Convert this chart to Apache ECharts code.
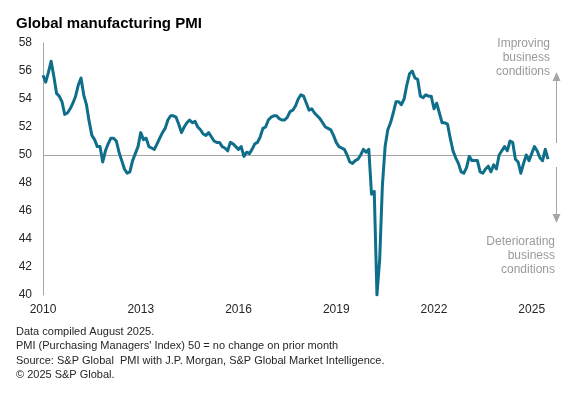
<!DOCTYPE html>
<html>
<head>
<meta charset="utf-8">
<script src="https://cdn.jsdelivr.net/npm/echarts@6/dist/echarts.min.js"></script>
<style>
html,body{margin:0;padding:0;background:#fff;}
#chart{width:569px;height:393px;}
</style>
</head>
<body>
<div id="chart"></div>
<script>
// ---- data ----
var startYear = 2010;
var pmi = [
  55.7, 55.2, 55.9, 56.7, 55.6, 54.4, 54.2, 53.8, 52.9, 53.0, 53.3, 53.7,
  54.2, 55.0, 55.5, 54.3, 53.6, 52.4, 51.4, 51.1, 50.6, 50.6, 49.5, 50.3,
  50.8, 51.2, 51.2, 51.0, 50.2, 49.6, 49.0, 48.7, 48.8, 49.6, 50.1, 50.6,
  51.6, 51.1, 51.2, 50.6, 50.5, 50.4, 50.8, 51.2, 51.6, 51.9, 52.5, 52.8,
  52.8, 52.7, 52.2, 51.6, 52.0, 52.3, 52.5, 52.3, 52.4, 52.0, 51.8, 51.5,
  51.4, 51.6, 51.3, 51.0, 50.9, 50.9, 50.6, 50.5, 50.3, 50.9, 50.8, 50.6,
  50.4, 50.6, 49.9, 50.2, 50.1, 50.4, 50.8, 50.9, 51.3, 51.9, 52.0, 52.5,
  52.7, 52.8, 52.8, 52.6, 52.5, 52.5, 52.7, 53.1, 53.2, 53.5, 54.0, 54.3,
  54.2, 53.7, 53.2, 53.3, 53.0, 52.8, 52.6, 52.3, 52.0, 51.9, 51.8, 51.4,
  50.9, 50.6, 50.5, 50.4, 50.0, 49.5, 49.4, 49.6, 49.7, 50.0, 50.4, 50.2,
  50.4, 47.2, 47.4, 40.0, 42.5, 47.8, 50.6, 51.8, 52.3, 53.0, 53.8, 53.8,
  53.6, 54.0, 55.0, 55.8, 56.0, 55.5, 55.4, 54.2, 54.1, 54.3, 54.2, 54.2,
  53.3, 53.7, 53.0, 52.3, 52.3, 52.2, 51.2, 50.3, 49.8, 49.4, 48.8, 48.7,
  49.1, 49.9, 49.6, 49.6, 49.6, 48.8, 48.7, 49.0, 49.2, 48.8, 49.3, 49.0,
  50.0, 50.3, 50.6, 50.3, 51.0, 50.9, 49.7, 49.5, 48.7, 49.4, 50.0, 49.6,
  50.1, 50.6, 50.3, 49.8, 49.6, 50.4, 49.7
];
var tickYears = ['2010', '2013', '2016', '2019', '2022', '2025'];
var neutralLevel = 50;
var titleText = 'Global manufacturing PMI';
var upText = 'Improving\nbusiness\nconditions';
var downText = 'Deteriorating\nbusiness\nconditions';
var footnotes = [
  'Data compiled August 2025.',
  "PMI (Purchasing Managers' Index) 50 = no change on prior month",
  'Source: S&P Global  PMI with J.P. Morgan, S&P Global Market Intelligence.',
  '\u00A9 2025 S&P Global.'
];

// categories: one per month
var months = [];
for (var i = 0; i < pmi.length; i++) {
  var y = startYear + Math.floor(i / 12);
  var mo = (i % 12) + 1;
  months.push(y + '-' + (mo < 10 ? '0' + mo : mo));
}

var FONT = '"Liberation Sans", Arial, sans-serif';
var GRAY = '#a6a6a6';

var chart = echarts.init(document.getElementById('chart'), null, {renderer: 'canvas'});

var graphics = [];
graphics.push({
  type: 'text', left: 16, top: 16,
  style: {text: titleText, font: 'bold 15px ' + FONT, fill: '#000'}
});
graphics.push({
  type: 'text', right: 19, top: 37,
  style: {text: upText, font: '12px ' + FONT, fill: '#9a9a9a', textAlign: 'right', lineHeight: 14}
});
graphics.push({
  type: 'text', right: 14, top: 235,
  style: {text: downText, font: '12px ' + FONT, fill: '#9a9a9a', textAlign: 'right', lineHeight: 14}
});
// arrows
graphics.push({type: 'line', shape: {x1: 556.5, y1: 143, x2: 556.5, y2: 80}, style: {stroke: GRAY, lineWidth: 1}});
graphics.push({type: 'polygon', shape: {points: [[556.5, 72], [552.5, 81], [560.5, 81]]}, style: {fill: GRAY}});
graphics.push({type: 'line', shape: {x1: 556.5, y1: 167, x2: 556.5, y2: 215}, style: {stroke: GRAY, lineWidth: 1}});
graphics.push({type: 'polygon', shape: {points: [[556.5, 223], [552.5, 214], [560.5, 214]]}, style: {fill: GRAY}});
for (var k = 0; k < footnotes.length; k++) {
  graphics.push({
    type: 'text', left: 16, top: 326 + k * 14.6,
    style: {text: footnotes[k], font: '11px ' + FONT, fill: '#262626'}
  });
}

chart.setOption({
  animation: false,
  backgroundColor: '#fff',
  grid: {left: 43, right: 21, top: 43, bottom: 98, containLabel: false},
  xAxis: {
    type: 'category',
    data: months,
    boundaryGap: false,
    axisLine: {show: false},
    axisTick: {show: false},
    splitLine: {show: false},
    axisLabel: {
      interval: function (idx) { return idx % 36 === 0; },
      formatter: function (val) {
        var yr = val.slice(0, 4);
        return tickYears.indexOf(yr) >= 0 ? yr : '';
      },
      margin: 9,
      color: '#262626',
      fontSize: 12,
      fontFamily: FONT
    }
  },
  yAxis: {
    type: 'value',
    min: 40, max: 58, interval: 2,
    axisLine: {show: true, lineStyle: {color: GRAY, width: 1}},
    axisTick: {show: false},
    splitLine: {show: false},
    axisLabel: {margin: 11, color: '#262626', fontSize: 12, fontFamily: FONT}
  },
  series: [{
    type: 'line',
    data: pmi,
    symbol: 'none',
    smooth: false,
    lineStyle: {color: '#0f6e8a', width: 3, join: 'round'},
    z: 3,
    markLine: {
      silent: true,
      symbol: ['none', 'none'],
      label: {show: false},
      lineStyle: {color: GRAY, width: 1, type: 'solid'},
      data: [{yAxis: neutralLevel}],
      z: 1
    }
  }],
  graphic: graphics
});
</script>
</body>
</html>
